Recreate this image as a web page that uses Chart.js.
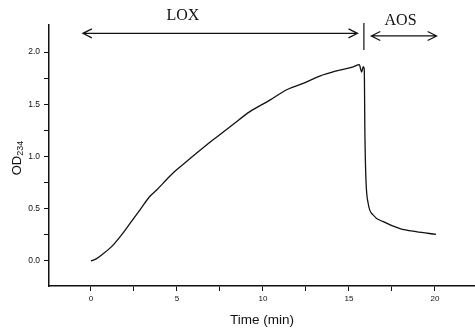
<!DOCTYPE html>
<html>
<head>
<meta charset="utf-8">
<script src="https://cdn.jsdelivr.net/npm/chart.js@4/dist/chart.umd.min.js"></script>
<style>
  html, body { margin: 0; padding: 0; background: #fff; }
  #wrap { width: 475px; height: 329px; }
</style>
</head>
<body>
<div id="wrap"><canvas id="odChart" width="475" height="329"></canvas></div>
<script>
// time (min) and OD234
const time = [0, 0.3, 0.62, 1.2, 1.78, 2.27, 2.85, 3.43, 3.82, 4.4, 4.88, 5.47, 6.2, 7.1, 8.2,
  9.24, 10.4, 11.38, 12.34, 13.3, 14.28, 15.25, 15.6, 15.74, 15.83, 15.89, 15.93, 15.99, 16.12,
  16.41, 17.0, 17.97, 18.9, 20.06];
const od = [0.0, 0.02, 0.057, 0.137, 0.25, 0.36, 0.49, 0.62, 0.68, 0.78, 0.86, 0.94, 1.04, 1.16, 1.30,
  1.43, 1.54, 1.64, 1.70, 1.77, 1.82, 1.86, 1.88, 1.81, 1.86, 1.84, 1.2, 0.776, 0.55,
  0.44, 0.376, 0.31, 0.28, 0.255];

const xTicks = [0, 2.5, 5, 7.5, 10, 12.5, 15, 17.5, 20];
const xLabels = ['0', '', '5', '', '10', '', '15', '', '20'];
const yTicks = [0, 0.25, 0.5, 0.75, 1.0, 1.25, 1.5, 1.75, 2.0];
const yLabels = ['0.0', '', '0.5', '', '1.0', '', '1.5', '', '2.0'];

const points = time.map((t, i) => ({ x: t, y: od[i] }));

// arrows + labels above the trace
const annot = {
  id: 'annot',
  afterDraw(chart) {
    const { ctx, scales: { x, y } } = chart;
    const px = v => x.getPixelForValue(v);
    const py = v => y.getPixelForValue(v);
    ctx.save();
    ctx.strokeStyle = '#111';
    ctx.fillStyle = '#111';
    ctx.lineWidth = 1.2;

    function arrow(x1, x2, yy) {
      const a = px(x1), b = px(x2), c = py(yy);
      ctx.beginPath();
      ctx.moveTo(a, c); ctx.lineTo(b, c);
      ctx.moveTo(a + 9, c - 4.5); ctx.lineTo(a, c); ctx.lineTo(a + 9, c + 4.5);
      ctx.moveTo(b - 9, c - 4.5); ctx.lineTo(b, c); ctx.lineTo(b - 9, c + 4.5);
      ctx.stroke();
    }
    arrow(-0.47, 15.5, 2.18);
    arrow(16.3, 20.1, 2.155);

    ctx.beginPath();
    ctx.moveTo(px(15.87), py(2.28));
    ctx.lineTo(px(15.87), py(2.02));
    ctx.stroke();

    ctx.font = '16px "Liberation Serif", "Times New Roman", serif';
    ctx.textAlign = 'center';
    ctx.textBaseline = 'middle';
    ctx.fillText('LOX', px(5.35), py(2.35));
    ctx.fillText('AOS', px(18.0), py(2.30));

    // y title with subscript
    ctx.translate(17, 158);
    ctx.rotate(-Math.PI / 2);
    ctx.textAlign = 'left';
    ctx.font = '13px "Liberation Sans", Arial, sans-serif';
    const w1 = ctx.measureText('OD').width;
    ctx.font = '9px "Liberation Sans", Arial, sans-serif';
    const w2 = ctx.measureText('234').width;
    const start = -(w1 + w2) / 2;
    ctx.font = '13px "Liberation Sans", Arial, sans-serif';
    ctx.fillText('OD', start, 0);
    ctx.font = '9px "Liberation Sans", Arial, sans-serif';
    ctx.fillText('234', start + w1, 4);
    ctx.restore();
  }
};

new Chart(document.getElementById('odChart').getContext('2d'), {
  type: 'scatter',
  data: {
    datasets: [{
      data: points,
      showLine: true,
      borderColor: '#111',
      borderWidth: 1.3,
      pointRadius: 0,
      cubicInterpolationMode: 'monotone',
      fill: false
    }]
  },
  options: {
    responsive: false,
    devicePixelRatio: 1,
    animation: false,
    layout: { padding: { top: 25, right: 0, left: 0, bottom: 0 } },
    plugins: { legend: { display: false }, tooltip: { enabled: false } },
    scales: {
      x: {
        type: 'linear',
        min: -2.44,
        max: 22.33,
        afterBuildTicks: (scale) => { scale.ticks = xTicks.map(v => ({ value: v })); },
        afterFit: (scale) => { scale.height = 43; },
        grid: { drawOnChartArea: false, color: '#111', tickLength: 5 },
        border: { color: '#111', width: 1.5 },
        ticks: {
          color: '#111',
          padding: 3,
          maxRotation: 0,
          autoSkip: false,
          font: { size: 8, family: '"Liberation Sans", Arial, sans-serif' },
          callback: (v, i) => xLabels[i]
        },
        title: {
          display: true,
          text: 'Time (min)',
          color: '#111',
          padding: { top: 0, bottom: 1 },
          font: { size: 13.5, family: '"Liberation Sans", Arial, sans-serif' }
        }
      },
      y: {
        min: -0.24,
        max: 2.26,
        afterBuildTicks: (scale) => { scale.ticks = yTicks.map(v => ({ value: v })); },
        afterFit: (scale) => { scale.width = 49; },
        grid: { drawOnChartArea: false, color: '#111', tickLength: 5 },
        border: { color: '#111', width: 1.5 },
        ticks: {
          color: '#111',
          padding: 4,
          autoSkip: false,
          font: { size: 8.5, family: '"Liberation Sans", Arial, sans-serif' },
          callback: (v, i) => yLabels[i]
        }
      }
    }
  },
  plugins: [annot]
});
</script>
</body>
</html>
